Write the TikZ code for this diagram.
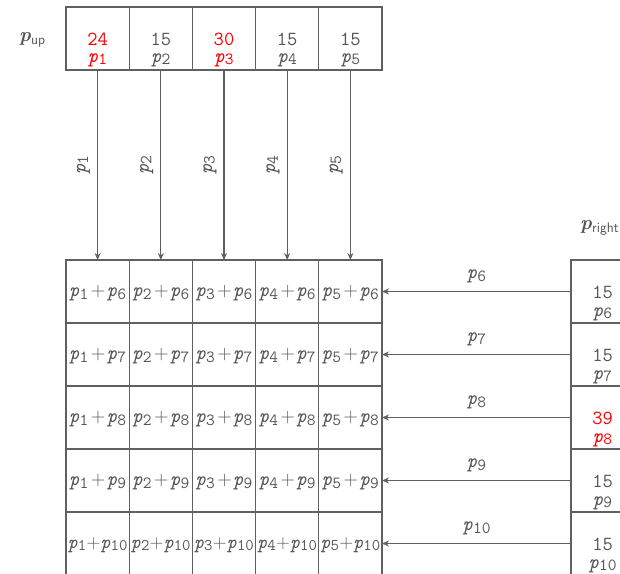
\documentclass[tikz,border=0pt]{standalone}
\usepackage{fontspec}
\usetikzlibrary{arrows.meta}
\definecolor{ln}{HTML}{606060}
\definecolor{tx}{HTML}{555555}
\definecolor{hi}{HTML}{FF0000}
\newcommand\pv[1]{\textit{p}\raisebox{-.3ex}{\fontsize{17}{17}\selectfont #1}}
\newcommand\pp[2]{\pv{#1}\hspace{2.5pt}{\rmfamily+}\hspace{1.5pt}\pv{#2}}
\newcommand\pq[2]{\pv{#1}\hspace{0.3pt}{\rmfamily+}\hspace{0.2pt}\pv{#2}}
\begin{document}
\begin{tikzpicture}[x=1pt,y=-1pt,
  cell/.style={draw=ln,line width=1.2pt,minimum width=63.2pt,minimum height=63pt,inner sep=0pt,outer sep=0pt},
  txt/.style={text=tx,font=\ttfamily\fontsize{20}{20}\selectfont,inner sep=0pt,align=center},
  arr/.style={draw=ln,line width=1.1pt,-{Stealth[length=7pt,width=6pt]}}]
\useasboundingbox (0,0) rectangle (620,573);
\clip (0,0) rectangle (620,573);
% top boxes
\foreach \i/\v/\c in {1/24/hi,2/15/tx,3/30/hi,4/15/tx,5/15/tx}{
  \node[cell] (u\i) at ({66+31.6+63.2*(\i-1)},38.5) {};
  \node[txt,text=\c,anchor=base] (un\i) at ({66+31.6+63.2*(\i-1)},45.5) {\v};
  \node[txt,text=\c,anchor=base] (up\i) at ({66+31.6+63.2*(\i-1)},62) {\pv{\i}};
}
% grid
\foreach \r in {1,...,4}{
  \foreach \i in {1,...,5}{
    \pgfmathtruncatemacro\j{\r+5}
    \node[cell] (g\r\i) at ({66+31.6+63.2*(\i-1)},{291.5+63*(\r-1)}) {};
    \node[txt] (gt\r\i) at ({66+31.6+63.2*(\i-1)},{293+63*(\r-1)}) {\pp{\i}{\j}};
  }
}
\foreach \i in {1,...,5}{
  \node[cell] (g5\i) at ({66+31.6+63.2*(\i-1)},543.5) {};
  \node[txt,scale=0.96] (gt5\i) at ({66+31.6+63.2*(\i-1)},545) {\pq{\i}{10}};
}
% right boxes
\foreach \r/\v/\c in {1/15/tx,2/15/tx,3/39/hi,4/15/tx,5/15/tx}{
  \pgfmathtruncatemacro\j{\r+5}
  \node[cell] (r\r) at (602.6,{291.5+63*(\r-1)}) {};
  \node[txt,text=\c,anchor=base] (rn\r) at (602.6,{298.5+63*(\r-1)}) {\v};
  \node[txt,text=\c,anchor=base] (rp\r) at (602.6,{316+63*(\r-1)}) {\pv{\j}};
  \draw[arr] (r\r.west) -- node[txt,above=8pt] (hl\r) {\pv{\j}} (g\r5.east);
}
% vertical arrows
\foreach \i in {1,...,5}{
  \draw[arr] (u\i.south) -- node[txt,rotate=90,above=7pt,anchor=south] (vl\i) {\pv{\i}} (g1\i.north);
}
% labels
\node[anchor=west,text=tx,inner sep=0pt,font=\fontsize{20}{20}\selectfont] (pup) at (19,40) {\textbf{\textit{p}}\raisebox{-.4ex}{\sffamily\fontsize{14}{14}\selectfont up}};
\node[anchor=west,text=tx,inner sep=0pt,font=\fontsize{20}{20}\selectfont] (pright) at (580,228) {\textbf{\textit{p}}\raisebox{-.4ex}{\sffamily\fontsize{14}{14}\selectfont right}};
\end{tikzpicture}
\end{document}
